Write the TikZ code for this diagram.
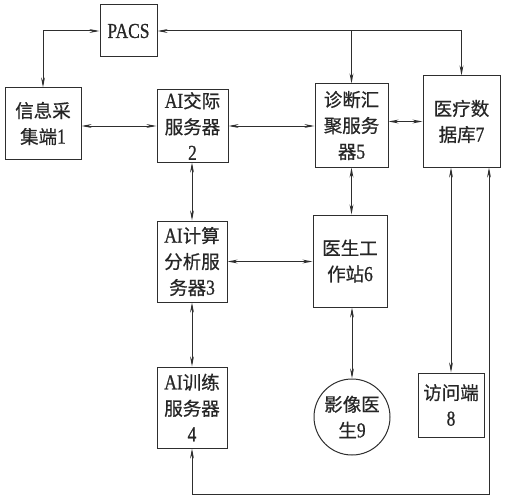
\documentclass[tikz,border=0pt]{standalone}
\usepackage{fontspec}
\setmainfont[FakeBold=0.8,FakeStretch=0.82,Scale=1.15]{Liberation Serif}
\newfontfamily\cjk[FakeBold=0.6]{Noto Sans CJK SC}
\usetikzlibrary{arrows.meta,calc}
\definecolor{ln}{HTML}{2E2E2E}
\tikzset{
  box/.style={draw=ln, line width=1pt, rectangle, align=center, inner sep=0pt,
    font=\fontsize{18.5}{26}\selectfont, text=black!85},
  tip/.tip={Stealth[length=10pt,width=3.8pt]},
  dbl/.style={draw=ln, line width=1pt, tip-tip},
  one/.style={draw=ln, line width=1pt, -tip},
}
\begin{document}
\begin{tikzpicture}[x=1pt,y=-1pt]
\useasboundingbox (0,0) rectangle (505,500);
\node[box, minimum width=57pt, minimum height=52pt] (pacs) at (128.5,31) {PACS};
\node[box, minimum width=76pt, minimum height=71pt] (n1) at (43,123.5) {{\cjk 信息采}\\{\cjk 集端}1};
\node[box, minimum width=71pt, minimum height=72pt] (n2) at (192.5,126) {AI{\cjk 交际}\\{\cjk 服务器}\\2};
\node[box, minimum width=70pt, minimum height=81pt] (n3) at (192,261.5) {AI{\cjk 计算}\\{\cjk 分析服}\\{\cjk 务器}3};
\node[box, minimum width=70pt, minimum height=81pt] (n4) at (192,407.5) {AI{\cjk 训练}\\{\cjk 服务器}\\4};
\node[box, minimum width=73pt, minimum height=83pt] (n5) at (351.5,125.5) {{\cjk 诊断汇}\\{\cjk 聚服务}\\{\cjk 器}5};
\node[box, minimum width=74pt, minimum height=92pt] (n6) at (350,261) {{\cjk 医生工}\\{\cjk 作站}6};
\node[box, minimum width=77pt, minimum height=91pt] (n7) at (461.5,121.5) {{\cjk 医疗数}\\{\cjk 据库}7};
\node[box, minimum width=66pt, minimum height=64pt] (n8) at (451,405) {{\cjk 访问端}\\8};
\node[box, circle, minimum size=76pt] (n9) at (352,417) {{\cjk 影像医}\\{\cjk 生}9};
\coordinate (c) at (489,494);
% connectors
\draw[dbl] (pacs.west) -| (n1.north);
\draw[dbl] (n1.east |- n2.west) -- (n2.west);
\draw[dbl] (n7.north) |- (pacs.east);
\draw[one] (n5.north |- pacs.east) -- (n5.north);
\draw[dbl] (n2.east) -- (n5.west |- n2.east);
\draw[dbl] (n5.east |- n7.west) -- (n7.west);
\draw[dbl] (n3.north |- n2.south) -- (n3.north);
\draw[dbl] (n3.east) -- (n6.west |- n3.east);
\draw[dbl] (n5.south) -- (n5.south |- n6.north);
\draw[dbl] (n3.south) -- (n4.north);
\draw[dbl] (n9.north |- n6.south) -- (n9.north);
\draw[dbl] (n8.north |- n7.south) -- (n8.north);
\draw[dbl] (n7.south -| c) -- (c) -| (n4.south);
\end{tikzpicture}
\end{document}
